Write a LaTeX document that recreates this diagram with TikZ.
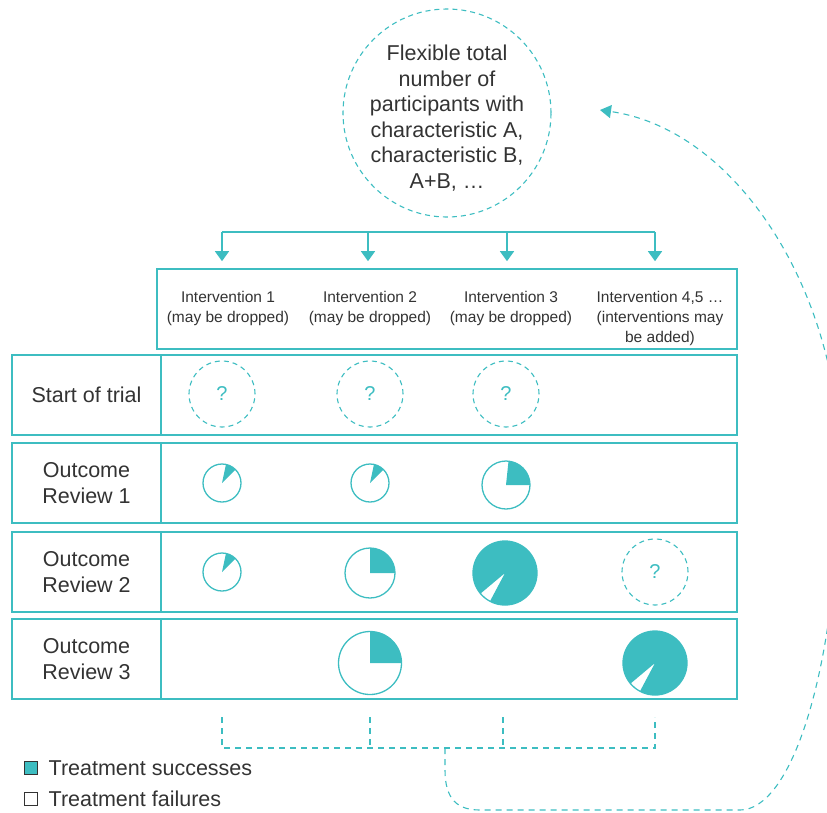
\documentclass[tikz,border=0pt]{standalone}
\usepackage{fontspec}
\setmainfont{Liberation Sans}
\usetikzlibrary{arrows.meta,positioning}
\definecolor{teal1}{HTML}{3DBDC1}
\definecolor{ink}{HTML}{333333}
\newcommand{\bigtext}{\fontsize{21.5}{25.5}\selectfont}
\newcommand{\smalltext}{\fontsize{15.5}{20}\selectfont}
\newcommand{\pieslice}[4]{\fill[teal1] (#1.center) -- ++(#3:#2) arc[start angle=#3,end angle=#4,radius=#2] -- cycle;}
\tikzset{
  box/.style={draw=teal1,line width=1.6pt,inner sep=0pt,rectangle},
  ask/.style={circle,draw=teal1,line width=1.1pt,dash pattern=on 5pt off 4pt,minimum size=66pt,inner sep=0pt,text=teal1,font=\fontsize{20}{24}\selectfont},
  pie/.style={circle,draw=teal1,line width=1.3pt,inner sep=0pt},
  link/.style={draw=teal1,line width=1.4pt},
  back/.style={draw=teal1,line width=1.1pt,dash pattern=on 6pt off 5pt},
}
\begin{document}
\begin{tikzpicture}[x=1pt,y=1pt,text=ink]
  \useasboundingbox (0,0) rectangle (827,-812);
  \clip (0,0) rectangle (827,-812);

  \node[circle,draw=teal1,line width=1.1pt,dash pattern=on 5pt off 4pt,minimum size=208pt,inner sep=0pt] (pool) at (447,-113) {};
  \node[align=center,font=\bigtext] (pooltext) at ([yshift=-5pt]pool.center) {Flexible total\\number of\\participants with\\characteristic A,\\characteristic B,\\A+B, \dots};

  \node[box,minimum width=580pt,minimum height=80pt] (head) at (447,-309) {};
  \begin{scope}[every node/.style={align=center,font=\smalltext}]
    \node (i1) at (228,-308) {Intervention 1\\(may be dropped)};
    \node (i2) at (370,-308) {Intervention 2\\(may be dropped)};
    \node (i3) at (511,-308) {Intervention 3\\(may be dropped)};
    \node (i4) at (660,-318) {Intervention 4,5 \dots\\(interventions may\\be added)};
  \end{scope}

  \coordinate (t1) at (222,-232);
  \coordinate (t2) at (368,-232);
  \coordinate (t3) at (507,-232);
  \coordinate (t4) at (655,-232);
  \draw[link] (t1) -- (t4);
  \begin{scope}[>={Triangle[width=14pt,length=10pt]}]
    \draw[link,->,shorten >=7pt] (t1) -- (t1 |- head.north);
    \draw[link,->,shorten >=7pt] (t2) -- (t2 |- head.north);
    \draw[link,->,shorten >=7pt] (t3) -- (t3 |- head.north);
    \draw[link,->,shorten >=7pt] (t4) -- (t4 |- head.north);
  \end{scope}

  \begin{scope}[every node/.style={box,align=center,font=\bigtext,minimum height=80pt}]
    \node[minimum width=149pt] (l1) at (86.5,-395) {Start of trial};
    \node[minimum width=576pt] (r1) at (449,-395) {};
    \node[minimum width=149pt] (l2) at (86.5,-483) {Outcome\\Review 1};
    \node[minimum width=576pt] (r2) at (449,-483) {};
    \node[minimum width=149pt] (l3) at (86.5,-572) {Outcome\\Review 2};
    \node[minimum width=576pt] (r3) at (449,-572) {};
    \node[minimum width=149pt] (l4) at (86.5,-659) {Outcome\\Review 3};
    \node[minimum width=576pt] (r4) at (449,-659) {};
  \end{scope}

  \node[ask] (q11) at (222,-394) {?};
  \node[ask] (q12) at (370,-394) {?};
  \node[ask] (q13) at (506,-394) {?};
  \node[ask] (q34) at (655,-572) {?};

  \node[pie,minimum size=38pt] (p21) at (222,-483) {};
  \node[pie,minimum size=38pt] (p22) at (370,-483) {};
  \node[pie,minimum size=48pt] (p23) at (506,-485) {};
  \node[pie,minimum size=38pt] (p31) at (222,-572) {};
  \node[pie,minimum size=50pt] (p32) at (370,-573) {};
  \node[pie,minimum size=64pt] (p33) at (505,-573) {};
  \node[pie,minimum size=63pt] (p42) at (370,-663) {};
  \node[pie,minimum size=64pt] (p44) at (655,-663) {};
  \pieslice{p21}{19}{45}{78}
  \pieslice{p22}{19}{45}{78}
  \pieslice{p23}{24}{0}{84}
  \pieslice{p31}{19}{45}{78}
  \pieslice{p32}{25}{0}{90}
  \pieslice{p33}{32}{242}{580}
  \pieslice{p42}{31.5}{0}{90}
  \pieslice{p44}{32}{242}{580}

  \coordinate (d1) at (222,-717);
  \coordinate (d2) at (370,-717);
  \coordinate (d3) at (503,-717);
  \coordinate (d4) at (655,-717);
  \coordinate (j1) at (222,-748);
  \coordinate (j2) at (370,-748);
  \coordinate (j3) at (503,-748);
  \coordinate (j4) at (655,-748);
  \coordinate (jm) at (445,-748);
  \coordinate (ret) at (600,-110);
  \draw[back] (d1) -- (j1) -- (j4) -- (d4);
  \draw[back] (d2) -- (j2);
  \draw[back] (d3) -- (j3);
  \draw[back,-{Triangle[width=13pt,length=11pt]}] (jm) -- (445,-770) .. controls (445,-800) and (458,-810) .. (480,-810) -- (740,-810) .. controls (790,-810) and (835,-680) .. (840,-480) .. controls (845,-300) and (740,-130) .. (ret);

  \node[draw=ink,line width=1pt,fill=teal1,minimum size=13pt,inner sep=0pt] (keyA) at (30.5,-768) {};
  \node[draw=ink,line width=1pt,fill=white,minimum size=13pt,inner sep=0pt] (keyB) at (30.5,-799) {};
  \node[right=11pt of keyA,inner sep=0pt,font=\bigtext] (txtA) {Treatment successes};
  \node[right=11pt of keyB,inner sep=0pt,font=\bigtext] (txtB) {Treatment failures};
\end{tikzpicture}
\end{document}
